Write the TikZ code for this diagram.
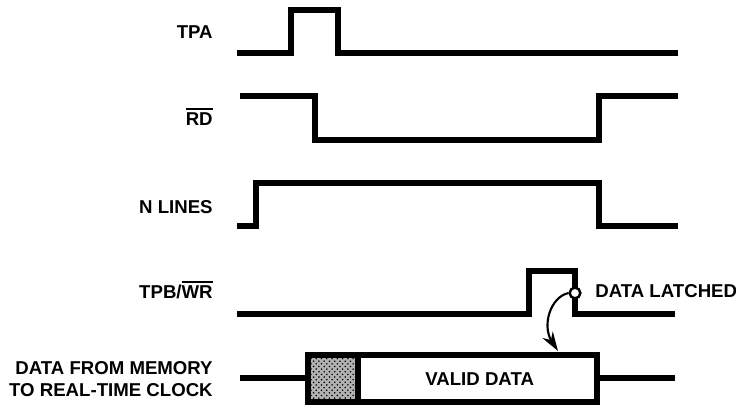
\documentclass[tikz,border=0pt]{standalone}
\usepackage{fontspec}
\setmainfont{Liberation Sans}
\usetikzlibrary{arrows.meta,patterns,positioning}
\newcommand{\barsig}[1]{\leavevmode\vbox{\hrule height 1.1pt\kern1.4pt\hbox{#1}}}

\begin{document}
\begin{tikzpicture} [
    x=0.02cm, y=-0.02cm,
    wave/.style={line width=3.4pt, line join=miter},
    lbl/.style={anchor=base east, inner sep=0pt, font=\fontsize{10.6}{13}\selectfont\bfseries, align=right},
    note/.style={anchor=base west, inner sep=0pt, font=\fontsize{10.6}{13}\selectfont\bfseries},
    tick/.style={circle, draw=black, fill=white, line width=1.3pt, minimum size=6pt, inner sep=0pt},
    >={Stealth[length=11pt,width=7pt]}
    ]
    \useasboundingbox (0,0) rectangle (736,406);

    %Nodes
    \node[lbl]      (tpa)     at (213,38)  {TPA};
    \node[lbl]      (rd)      at (213,125) {\barsig{RD}};
    \node[lbl]      (nlines)  at (213,213) {N LINES};
    \node[lbl]      (tpb)     at (213,298) {TPB/\barsig{WR}};
    \node[lbl, anchor=east] (bus) at (213,379) {DATA FROM MEMORY\\TO REAL-TIME CLOCK};
    \node[note]     (valid)   at (425,385) {VALID DATA};
    \node[tick]     (latch)   at (575,293) {};
    \node[note]     (latched) at (595,297) {DATA LATCHED};
    \coordinate     (hit)     at (558,351);

    %Waves
    \draw[wave] (237,53) -- (291,53) -- (291,10) -- (338,10) -- (338,53) -- (678,53);
    \draw[wave] (240,96) -- (315,96) -- (315,140) -- (599,140) -- (599,96) -- (678,96);
    \draw[wave] (237,226) -- (256,226) -- (256,183) -- (599,183) -- (599,226) -- (678,226);
    \draw[wave] (237,314) -- (529,314) -- (529,271) -- (575,271) -- (575,314) -- (675,314);

    %Bus
    \draw[wave] (240,378) -- (308,378);
    \fill[black!30] (311,358) rectangle (358,399);
    \fill[pattern=crosshatch dots] (311,358) rectangle (358,399);
    \draw[wave] (308,355) rectangle (597,402);
    \draw[wave] (358,355) -- (358,402);
    \draw[wave] (597,378) -- (675,378);

    %Latch
    \node[tick] at (latch) {};
    \draw[->, line width=1.2pt] (latch.west) .. controls (550,297) and (542,326) .. (hit);
\end{tikzpicture}
\end{document}
